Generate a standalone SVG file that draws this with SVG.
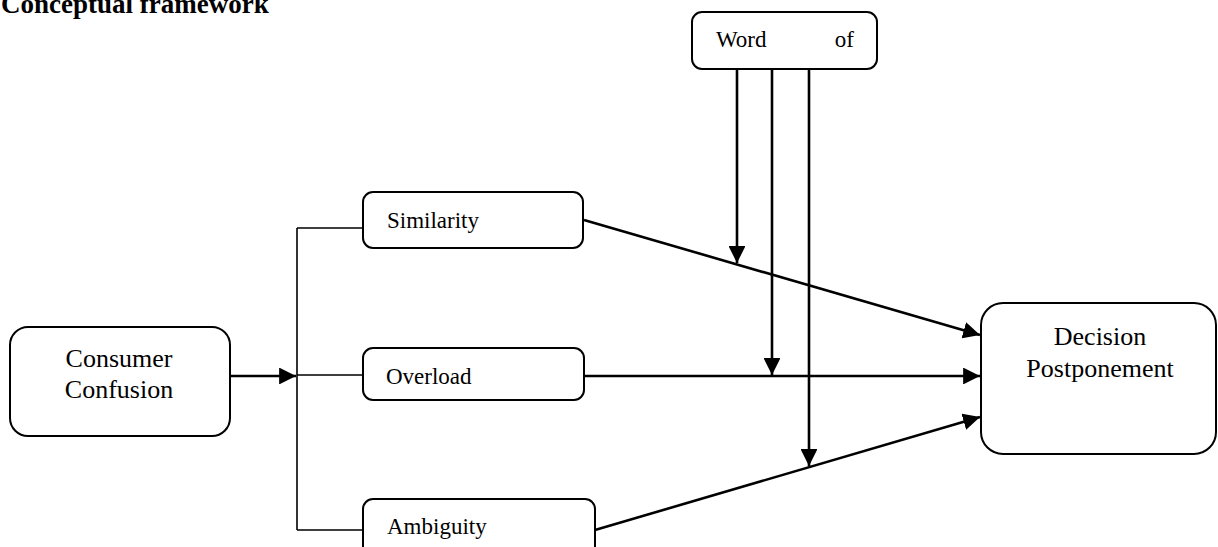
<svg xmlns="http://www.w3.org/2000/svg" width="1218" height="547" viewBox="0 0 1218 547">
<style>
.box{fill:#fff;stroke:#000;stroke-width:2}
.t{font-family:"Liberation Serif","Times New Roman",serif;fill:#000}
.big{font-size:26px}
.sm{font-size:23px}
.ar{stroke:#000;stroke-width:2.6;fill:none}
.ln{stroke:#000;stroke-width:1.6;fill:none}
</style>
<defs>
<marker id="ah" viewBox="0 0 10 10" refX="10" refY="5" markerWidth="7" markerHeight="7" markerUnits="userSpaceOnUse" orient="auto">
<path d="M0,0 L10,5 L0,10 Z" fill="#000"/>
</marker>
<marker id="ahb" viewBox="0 0 10 10" refX="10" refY="5" markerWidth="6.5" markerHeight="6.5" orient="auto">
<path d="M0,0 L10,5 L0,10 Z" fill="#000"/>
</marker>
</defs>
<text class="t" x="1" y="13" font-size="27" font-weight="bold">Conceptual framework</text>
<g id="connectors">
<path class="ln" d="M297,228 V530 M297,228 H363 M297,375 H363 M297,530 H363"/>
<line class="ar" x1="231" y1="376" x2="296" y2="376" marker-end="url(#ahb)"/>
<line class="ar" x1="584" y1="220" x2="980" y2="335" marker-end="url(#ahb)"/>
<line class="ar" x1="584" y1="376" x2="980" y2="376" marker-end="url(#ahb)"/>
<line class="ar" x1="595" y1="530" x2="980" y2="417" marker-end="url(#ahb)"/>
<line class="ar" x1="737" y1="70" x2="737" y2="263" marker-end="url(#ahb)"/>
<line class="ar" x1="772" y1="70" x2="772" y2="375" marker-end="url(#ahb)"/>
<line class="ar" x1="809" y1="70" x2="809" y2="466" marker-end="url(#ahb)"/>
</g>
<g id="word-of">
<rect class="box" x="692" y="12" width="185" height="57" rx="10"/>
<text class="t sm" x="716" y="47">Word</text>
<text class="t sm" x="854" y="47" text-anchor="end">of</text>
</g>
<g id="consumer-confusion">
<rect class="box" x="10" y="327" width="220" height="109" rx="18"/>
<text class="t big" x="119" y="367" text-anchor="middle">Consumer</text>
<text class="t big" x="119" y="398" text-anchor="middle">Confusion</text>
</g>
<g id="similarity">
<rect class="box" x="363" y="192" width="220" height="56" rx="10"/>
<text class="t sm" x="387" y="228">Similarity</text>
</g>
<g id="overload">
<rect class="box" x="363" y="348" width="221" height="52" rx="10"/>
<text class="t sm" x="386" y="384">Overload</text>
</g>
<g id="ambiguity">
<rect class="box" x="363" y="499" width="232" height="70" rx="10"/>
<text class="t sm" x="387" y="534">Ambiguity</text>
</g>
<g id="decision-postponement">
<rect class="box" x="981" y="303" width="235" height="151" rx="22"/>
<text class="t big" x="1100" y="345" text-anchor="middle">Decision</text>
<text class="t big" x="1100" y="377" text-anchor="middle">Postponement</text>
</g>
</svg>
